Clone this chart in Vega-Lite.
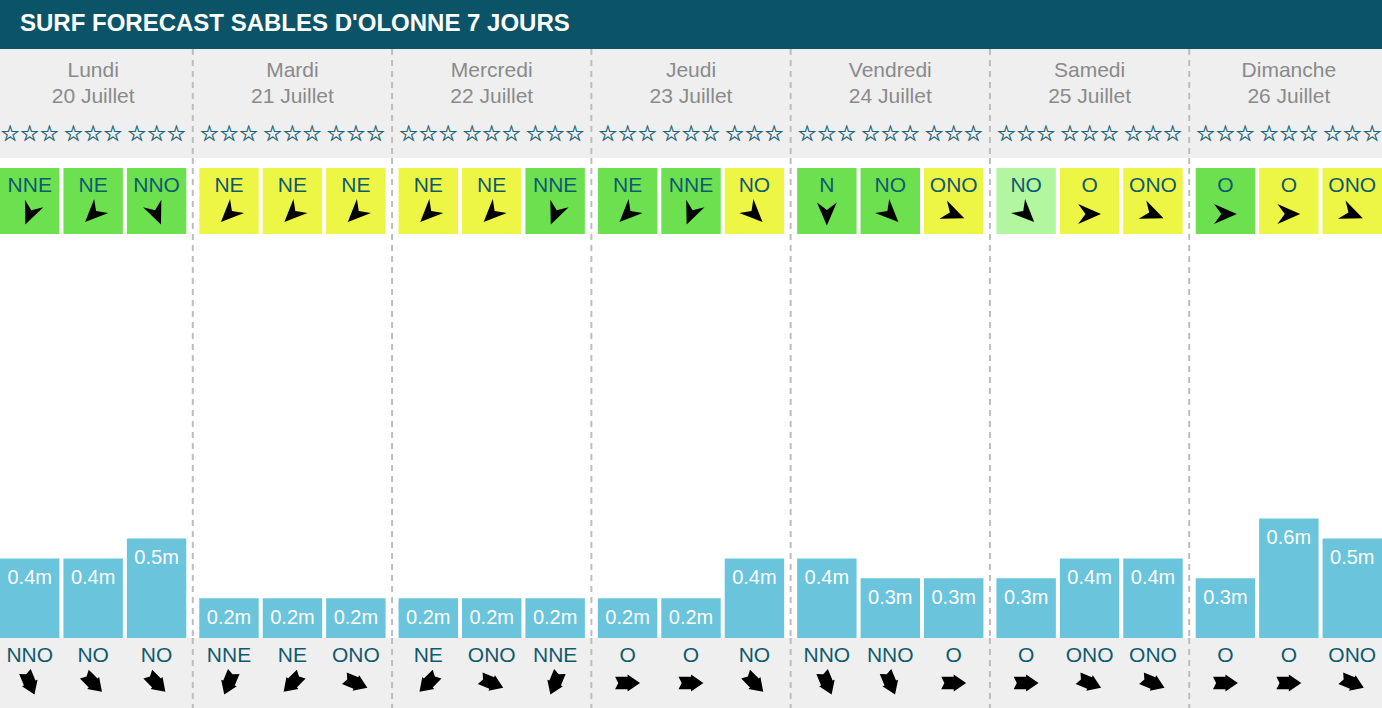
{
  "$schema": "https://vega.github.io/schema/vega-lite/v6.json",
  "background": "#0b5468",
  "padding": {"left": 0, "right": 0, "top": 12, "bottom": 0},
  "title": {"text": "SURF FORECAST SABLES D'OLONNE 7 JOURS", "anchor": "start", "frame": "bounds", "dx": 20, "offset": 12, "font": "Liberation Sans", "fontSize": 24, "fontWeight": "bold", "color": "#ffffff", "baseline": "top"},
  "config": {"view": {"stroke": null}, "text": {"font": "Liberation Sans"}},
  "spacing": 0,
  "bounds": "flush",
  "datasets": {
    "days": [
      {"day": "Lundi", "date": "20 Juillet"},
      {"day": "Mardi", "date": "21 Juillet"},
      {"day": "Mercredi", "date": "22 Juillet"},
      {"day": "Jeudi", "date": "23 Juillet"},
      {"day": "Vendredi", "date": "24 Juillet"},
      {"day": "Samedi", "date": "25 Juillet"},
      {"day": "Dimanche", "date": "26 Juillet"}
    ],
    "slots": [
      {"day": "Lundi", "slot": 1, "stars": "☆☆☆", "wind": "NNE", "windDeg": 22.5, "windRating": "bon", "wave": 0.4, "swell": "NNO", "swellDeg": 337.5},
      {"day": "Lundi", "slot": 2, "stars": "☆☆☆", "wind": "NE", "windDeg": 45, "windRating": "bon", "wave": 0.4, "swell": "NO", "swellDeg": 315},
      {"day": "Lundi", "slot": 3, "stars": "☆☆☆", "wind": "NNO", "windDeg": 337.5, "windRating": "bon", "wave": 0.5, "swell": "NO", "swellDeg": 315},
      {"day": "Mardi", "slot": 1, "stars": "☆☆☆", "wind": "NE", "windDeg": 45, "windRating": "moyen", "wave": 0.2, "swell": "NNE", "swellDeg": 22.5},
      {"day": "Mardi", "slot": 2, "stars": "☆☆☆", "wind": "NE", "windDeg": 45, "windRating": "moyen", "wave": 0.2, "swell": "NE", "swellDeg": 45},
      {"day": "Mardi", "slot": 3, "stars": "☆☆☆", "wind": "NE", "windDeg": 45, "windRating": "moyen", "wave": 0.2, "swell": "ONO", "swellDeg": 292.5},
      {"day": "Mercredi", "slot": 1, "stars": "☆☆☆", "wind": "NE", "windDeg": 45, "windRating": "moyen", "wave": 0.2, "swell": "NE", "swellDeg": 45},
      {"day": "Mercredi", "slot": 2, "stars": "☆☆☆", "wind": "NE", "windDeg": 45, "windRating": "moyen", "wave": 0.2, "swell": "ONO", "swellDeg": 292.5},
      {"day": "Mercredi", "slot": 3, "stars": "☆☆☆", "wind": "NNE", "windDeg": 22.5, "windRating": "bon", "wave": 0.2, "swell": "NNE", "swellDeg": 22.5},
      {"day": "Jeudi", "slot": 1, "stars": "☆☆☆", "wind": "NE", "windDeg": 45, "windRating": "bon", "wave": 0.2, "swell": "O", "swellDeg": 270},
      {"day": "Jeudi", "slot": 2, "stars": "☆☆☆", "wind": "NNE", "windDeg": 22.5, "windRating": "bon", "wave": 0.2, "swell": "O", "swellDeg": 270},
      {"day": "Jeudi", "slot": 3, "stars": "☆☆☆", "wind": "NO", "windDeg": 315, "windRating": "moyen", "wave": 0.4, "swell": "NO", "swellDeg": 315},
      {"day": "Vendredi", "slot": 1, "stars": "☆☆☆", "wind": "N", "windDeg": 0, "windRating": "bon", "wave": 0.4, "swell": "NNO", "swellDeg": 337.5},
      {"day": "Vendredi", "slot": 2, "stars": "☆☆☆", "wind": "NO", "windDeg": 315, "windRating": "bon", "wave": 0.3, "swell": "NNO", "swellDeg": 337.5},
      {"day": "Vendredi", "slot": 3, "stars": "☆☆☆", "wind": "ONO", "windDeg": 292.5, "windRating": "moyen", "wave": 0.3, "swell": "O", "swellDeg": 270},
      {"day": "Samedi", "slot": 1, "stars": "☆☆☆", "wind": "NO", "windDeg": 315, "windRating": "faible", "wave": 0.3, "swell": "O", "swellDeg": 270},
      {"day": "Samedi", "slot": 2, "stars": "☆☆☆", "wind": "O", "windDeg": 270, "windRating": "moyen", "wave": 0.4, "swell": "ONO", "swellDeg": 292.5},
      {"day": "Samedi", "slot": 3, "stars": "☆☆☆", "wind": "ONO", "windDeg": 292.5, "windRating": "moyen", "wave": 0.4, "swell": "ONO", "swellDeg": 292.5},
      {"day": "Dimanche", "slot": 1, "stars": "☆☆☆", "wind": "O", "windDeg": 270, "windRating": "bon", "wave": 0.3, "swell": "O", "swellDeg": 270},
      {"day": "Dimanche", "slot": 2, "stars": "☆☆☆", "wind": "O", "windDeg": 270, "windRating": "moyen", "wave": 0.6, "swell": "O", "swellDeg": 270},
      {"day": "Dimanche", "slot": 3, "stars": "☆☆☆", "wind": "ONO", "windDeg": 292.5, "windRating": "moyen", "wave": 0.5, "swell": "ONO", "swellDeg": 292.5}
    ]
  },
  "vconcat": [
    {
      "width": 1382, "height": 109,
      "view": {"fill": "#efefef"},
      "layer": [
        {"data": {"name": "days"}, "transform": [{"filter": "datum.day !== 'Dimanche'"}],
         "mark": {"type": "rule", "color": "#bdbdbd", "strokeWidth": 2, "strokeDash": [6, 5], "xOffset": 6.5},
         "encoding": {"x": {"field": "day", "type": "nominal", "bandPosition": 1, "scale": {"domain": ["Lundi","Mardi","Mercredi","Jeudi","Vendredi","Samedi","Dimanche"], "paddingInner": 0.0652, "paddingOuter": 0}, "axis": null}}},
        {"data": {"name": "days"},
         "mark": {"type": "text", "fontSize": 21, "color": "#8a8a8a", "baseline": "middle", "dy": -32.5},
         "encoding": {"x": {"field": "day", "type": "nominal", "scale": {"domain": ["Lundi","Mardi","Mercredi","Jeudi","Vendredi","Samedi","Dimanche"], "paddingInner": 0.0652, "paddingOuter": 0}, "axis": null}, "text": {"field": "day"}}},
        {"data": {"name": "days"},
         "mark": {"type": "text", "fontSize": 21, "color": "#8a8a8a", "baseline": "middle", "dy": -7},
         "encoding": {"x": {"field": "day", "type": "nominal", "scale": {"domain": ["Lundi","Mardi","Mercredi","Jeudi","Vendredi","Samedi","Dimanche"], "paddingInner": 0.0652, "paddingOuter": 0}, "axis": null}, "text": {"field": "date"}}},
        {"data": {"name": "slots"},
         "mark": {"type": "text", "font": "DejaVu Sans", "fontSize": 22, "color": "#1a637a", "stroke": "#1a637a", "strokeWidth": 0.4, "baseline": "middle", "dy": 30.5},
         "encoding": {"x": {"field": "day", "type": "nominal", "scale": {"domain": ["Lundi","Mardi","Mercredi","Jeudi","Vendredi","Samedi","Dimanche"], "paddingInner": 0.0652, "paddingOuter": 0}, "axis": null},
                      "xOffset": {"field": "slot", "type": "nominal", "scale": {"domain": [1, 2, 3], "paddingInner": 0.063, "paddingOuter": 0}},
                      "text": {"field": "stars"}}}
      ]
    },
    {
      "width": 1382, "height": 10,
      "view": {"fill": "#ffffff"},
      "data": {"name": "days"},
      "transform": [{"filter": "datum.day !== 'Dimanche'"}],
      "mark": {"type": "rule", "color": "#bdbdbd", "strokeWidth": 2, "strokeDash": [6, 5], "xOffset": 6.5},
      "encoding": {"x": {"field": "day", "type": "nominal", "bandPosition": 1, "scale": {"domain": ["Lundi","Mardi","Mercredi","Jeudi","Vendredi","Samedi","Dimanche"], "paddingInner": 0.0652, "paddingOuter": 0}, "axis": null}}
    },
    {
      "width": 1382, "height": 66,
      "view": {"fill": "#ffffff"},
      "layer": [
        {"data": {"name": "days"}, "transform": [{"filter": "datum.day !== 'Dimanche'"}],
         "mark": {"type": "rule", "color": "#bdbdbd", "strokeWidth": 2, "strokeDash": [6, 5], "xOffset": 6.5},
         "encoding": {"x": {"field": "day", "type": "nominal", "bandPosition": 1, "scale": {"domain": ["Lundi","Mardi","Mercredi","Jeudi","Vendredi","Samedi","Dimanche"], "paddingInner": 0.0652, "paddingOuter": 0}, "axis": null}}},
        {"data": {"name": "slots"},
         "mark": {"type": "rect"},
         "encoding": {"x": {"field": "day", "type": "nominal", "scale": {"domain": ["Lundi","Mardi","Mercredi","Jeudi","Vendredi","Samedi","Dimanche"], "paddingInner": 0.0652, "paddingOuter": 0}, "axis": null},
                      "xOffset": {"field": "slot", "type": "nominal", "scale": {"domain": [1, 2, 3], "paddingInner": 0.063, "paddingOuter": 0}},
                      "color": {"field": "windRating", "type": "nominal", "scale": {"domain": ["bon", "moyen", "faible"], "range": ["#6ce04e", "#edf545", "#b2f79f"]}, "legend": null}}},
        {"data": {"name": "slots"},
         "mark": {"type": "text", "fontSize": 21, "color": "#0e5a70", "baseline": "middle", "dy": -15.5},
         "encoding": {"x": {"field": "day", "type": "nominal", "scale": {"domain": ["Lundi","Mardi","Mercredi","Jeudi","Vendredi","Samedi","Dimanche"], "paddingInner": 0.0652, "paddingOuter": 0}, "axis": null},
                      "xOffset": {"field": "slot", "type": "nominal", "scale": {"domain": [1, 2, 3], "paddingInner": 0.063, "paddingOuter": 0}},
                      "text": {"field": "wind"}}},
        {"data": {"name": "slots"},
         "mark": {"type": "point", "shape": "M0,1L-0.87,-1L0,-0.36L0.87,-1Z", "filled": true, "color": "#000000", "opacity": 1, "size": 520, "yOffset": 13},
         "encoding": {"x": {"field": "day", "type": "nominal", "scale": {"domain": ["Lundi","Mardi","Mercredi","Jeudi","Vendredi","Samedi","Dimanche"], "paddingInner": 0.0652, "paddingOuter": 0}, "axis": null},
                      "xOffset": {"field": "slot", "type": "nominal", "scale": {"domain": [1, 2, 3], "paddingInner": 0.063, "paddingOuter": 0}},
                      "angle": {"field": "windDeg", "type": "quantitative", "scale": {"domain": [0, 360], "range": [0, 360]}}}}
      ]
    },
    {
      "width": 1382, "height": 404,
      "view": {"fill": "#ffffff"},
      "layer": [
        {"data": {"name": "days"}, "transform": [{"filter": "datum.day !== 'Dimanche'"}],
         "mark": {"type": "rule", "color": "#bdbdbd", "strokeWidth": 2, "strokeDash": [6, 5], "xOffset": 6.5},
         "encoding": {"x": {"field": "day", "type": "nominal", "bandPosition": 1, "scale": {"domain": ["Lundi","Mardi","Mercredi","Jeudi","Vendredi","Samedi","Dimanche"], "paddingInner": 0.0652, "paddingOuter": 0}, "axis": null}}},
        {"data": {"name": "slots"},
         "mark": {"type": "bar", "color": "#69c4dc"},
         "encoding": {"x": {"field": "day", "type": "nominal", "scale": {"domain": ["Lundi","Mardi","Mercredi","Jeudi","Vendredi","Samedi","Dimanche"], "paddingInner": 0.0652, "paddingOuter": 0}, "axis": null},
                      "xOffset": {"field": "slot", "type": "nominal", "scale": {"domain": [1, 2, 3], "paddingInner": 0.063, "paddingOuter": 0}},
                      "y": {"field": "wave", "type": "quantitative", "scale": {"domain": [0, 2.03], "nice": false, "zero": true}, "axis": null}}},
        {"data": {"name": "slots"},
         "transform": [{"calculate": "format(datum.wave, '.1f') + 'm'", "as": "label"}],
         "mark": {"type": "text", "fontSize": 20, "color": "#ffffff", "baseline": "middle", "dy": 19.5},
         "encoding": {"x": {"field": "day", "type": "nominal", "scale": {"domain": ["Lundi","Mardi","Mercredi","Jeudi","Vendredi","Samedi","Dimanche"], "paddingInner": 0.0652, "paddingOuter": 0}, "axis": null},
                      "xOffset": {"field": "slot", "type": "nominal", "scale": {"domain": [1, 2, 3], "paddingInner": 0.063, "paddingOuter": 0}},
                      "y": {"field": "wave", "type": "quantitative", "scale": {"domain": [0, 2.03], "nice": false, "zero": true}, "axis": null},
                      "text": {"field": "label"}}}
      ]
    },
    {
      "width": 1382, "height": 71,
      "view": {"fill": "#efefef"},
      "layer": [
        {"data": {"name": "days"}, "transform": [{"filter": "datum.day !== 'Dimanche'"}],
         "mark": {"type": "rule", "color": "#bdbdbd", "strokeWidth": 2, "strokeDash": [6, 5], "xOffset": 6.5},
         "encoding": {"x": {"field": "day", "type": "nominal", "bandPosition": 1, "scale": {"domain": ["Lundi","Mardi","Mercredi","Jeudi","Vendredi","Samedi","Dimanche"], "paddingInner": 0.0652, "paddingOuter": 0}, "axis": null}}},
        {"data": {"name": "slots"},
         "mark": {"type": "text", "fontSize": 21, "color": "#0e5a70", "baseline": "middle", "dy": -18},
         "encoding": {"x": {"field": "day", "type": "nominal", "scale": {"domain": ["Lundi","Mardi","Mercredi","Jeudi","Vendredi","Samedi","Dimanche"], "paddingInner": 0.0652, "paddingOuter": 0}, "axis": null},
                      "xOffset": {"field": "slot", "type": "nominal", "scale": {"domain": [1, 2, 3], "paddingInner": 0.063, "paddingOuter": 0}},
                      "text": {"field": "swell"}}},
        {"data": {"name": "slots"},
         "mark": {"type": "point", "shape": "M0.5,-1L0.5,0L0.68,0L0,1L-0.68,0L-0.5,0L-0.5,-1L0,-0.75Z", "filled": true, "color": "#000000", "opacity": 1, "size": 620, "yOffset": 9.5},
         "encoding": {"x": {"field": "day", "type": "nominal", "scale": {"domain": ["Lundi","Mardi","Mercredi","Jeudi","Vendredi","Samedi","Dimanche"], "paddingInner": 0.0652, "paddingOuter": 0}, "axis": null},
                      "xOffset": {"field": "slot", "type": "nominal", "scale": {"domain": [1, 2, 3], "paddingInner": 0.063, "paddingOuter": 0}},
                      "angle": {"field": "swellDeg", "type": "quantitative", "scale": {"domain": [0, 360], "range": [0, 360]}}}}
      ]
    }
  ]
}
